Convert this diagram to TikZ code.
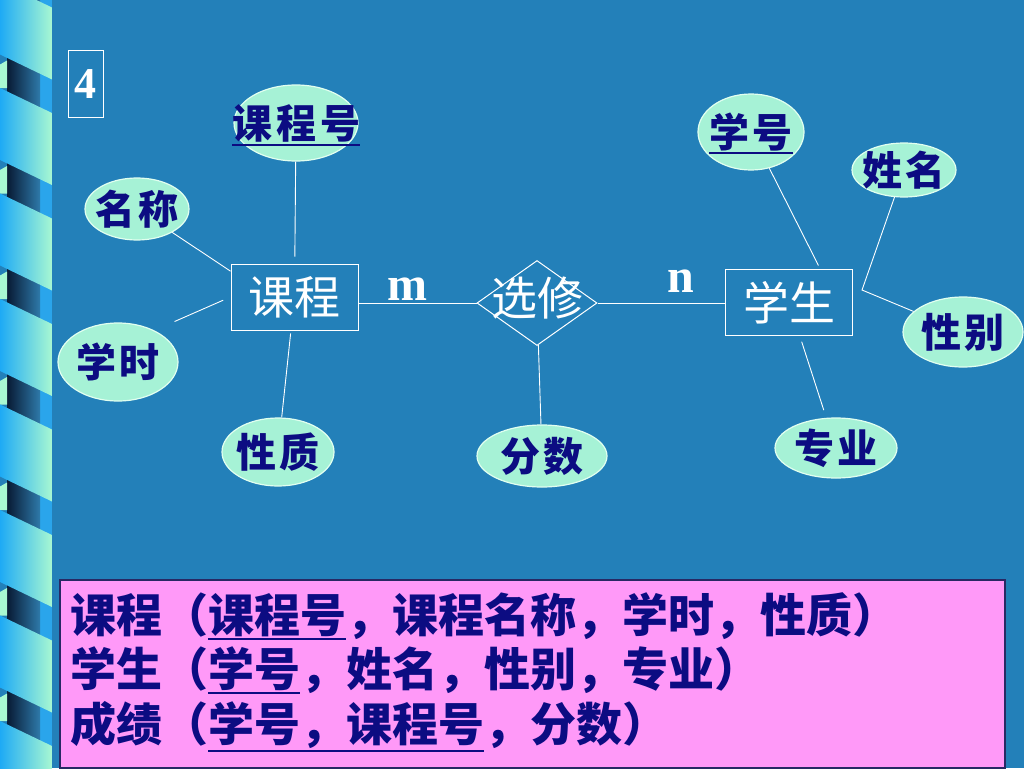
\documentclass[tikz,border=0pt]{standalone}
\usepackage{fontspec}
\setmainfont{Liberation Serif}
\newfontfamily\cjk{Noto Sans CJK SC}
\newfontfamily\cjkattr[LetterSpace=10]{Noto Sans CJK SC}
\usetikzlibrary{shapes.geometric}

\definecolor{slidebg}{RGB}{35,128,185}
\definecolor{ribbonblue}{RGB}{30,170,245}
\definecolor{ribbonmint}{RGB}{168,248,210}
\definecolor{barblue}{RGB}{42,165,235}
\definecolor{bardark}{RGB}{8,26,52}
\definecolor{barlight}{RGB}{46,122,170}
\definecolor{attrfill}{RGB}{166,242,214}
\definecolor{attredge}{RGB}{225,255,240}
\definecolor{navy}{RGB}{12,12,130}
\definecolor{notepink}{RGB}{255,153,248}
\definecolor{noteedge}{RGB}{40,40,100}

\newcommand{\attrtext}[1]{\makebox[0pt]{\raisebox{-0.38em}[0pt][0pt]{#1}}}
\newcommand{\keyline}[1]{\vtop{\hbox{#1}\kern1.5pt\hrule height 2pt}}

\begin{document}
\begin{tikzpicture}[x=1pt, y=-1pt,
    entity/.style={draw=white, line width=1pt, minimum width=127pt, minimum height=66pt,
      inner sep=0pt, text=white, font=\cjk\fontsize{46}{48}\selectfont},
    relation/.style={diamond, draw=white, line width=1pt, minimum width=120pt, minimum height=85pt,
      inner sep=0pt, text=white, font=\cjk\fontsize{46}{48}\selectfont},
    attr/.style={ellipse, draw=attredge, fill=attrfill, line width=1.2pt, inner sep=0pt,
      text=navy, font=\cjkattr\bfseries\fontsize{40}{42}\selectfont},
    link/.style={white, line width=0.9pt},
    card/.style={text=white, inner sep=0pt, font=\bfseries\fontsize{48}{50}\selectfont},
    note/.style={anchor=base west, inner sep=0pt, text=navy, font=\cjk\bfseries\fontsize{46}{48}\selectfont}]

  \useasboundingbox (0,0) rectangle (1024,768);
  \fill[slidebg] (0,0) rectangle (1024,768);

  % decorative strip on the left
  \begin{scope}
    \clip (0,0) rectangle (52,768);
    \fill[barblue] (40,0) rectangle (52,768);
    \shade[left color=bardark, right color=barlight] (7,0) rectangle (40,768);
    \foreach \k in {0,...,7}{
      \pgfmathsetmacro\t{-17.5+105.5*\k}
      \fill[ribbonmint] (0,\t+82) -- (7,\t+78) -- (7,\t+105.5) -- (0,\t+105.5) -- cycle;
      \shade[left color=ribbonblue, right color=ribbonmint] (0,\t) -- (52,\t+25) -- (52,\t+97) -- (0,\t+72) -- cycle;
    }
  \end{scope}

  \node[draw=white, line width=1pt, minimum width=35pt, minimum height=67pt, inner sep=0pt,
    text=white, font=\bfseries\fontsize{44}{46}\selectfont] (pnum) at (85.5,84) {4};

  % entities and relation
  \node[entity] (kc) at (294.5,297) {课程};
  \node[relation] (xx) at (537,303) {\attrtext{\raisebox{5pt}{选修}}};
  \node[entity] (xsh) at (789,302.5) {学生};

  % attributes
  \node[attr, minimum width=124pt, minimum height=76pt] (kch) at (296,123) {\attrtext{\keyline{课程号}}};
  \node[attr, minimum width=104pt, minimum height=62pt] (mc) at (137,209) {\attrtext{名称}};
  \node[attr, minimum width=120pt, minimum height=78pt] (xs) at (118,362) {\attrtext{学时}};
  \node[attr, minimum width=112pt, minimum height=68pt] (xz) at (278,452) {\attrtext{性质}};
  \node[attr, minimum width=130pt, minimum height=62pt] (fs) at (542,456) {\attrtext{分数}};
  \node[attr, minimum width=106pt, minimum height=76pt] (xh) at (751,132) {\attrtext{\keyline{学号}}};
  \node[attr, minimum width=104pt, minimum height=54pt] (xm) at (904,170) {\attrtext{姓名}};
  \node[attr, minimum width=120pt, minimum height=70pt] (xb) at (963,332) {\attrtext{性别}};
  \node[attr, minimum width=122pt, minimum height=60pt] (zy) at (836,448) {\attrtext{专业}};

  % links
  \draw[link, shorten >=7pt] (kch) -- (kc);
  \draw[link] (mc) -- (kc.158);
  \draw[link, shorten <=22pt, shorten >=8pt] (xs.41) -- (kc.west);
  \draw[link, shorten <=3pt] (kc) -- (xz);
  \draw[link] (xx) -- (fs);
  \draw[link, shorten >=4pt] (xh) -- (xsh.47);
  \coordinate (xsj) at (862,290);
  \draw[link] (xm) -- (xsj) -- (xb);
  \draw[link, shorten <=8pt, shorten >=6pt] (zy) -- (xsh);
  \draw[link] (kc.east |- xx.west) -- (xx.west);
  \draw[link] (xx.east) -- (xsh.west |- xx.east);

  \node[card] (mlab) at (407,289) {m};
  \node[card] (nlab) at (681,281) {n};

  % relational schemas
  \node[draw=noteedge, fill=notepink, line width=1.2pt, minimum width=945pt, minimum height=188pt,
    inner sep=0pt] (notebox) at (532.5,674) {};
  \node[note] (rcourse) at (70,632) {课程（\keyline{课程号}，课程名称，学时，性质）};
  \node[note] (rstudent) at (70,686) {学生（\keyline{学号}，姓名，性别，专业）};
  \node[note] (rscore) at (70,741) {成绩（\keyline{学号，课程号}，分数）};

\end{tikzpicture}
\end{document}
